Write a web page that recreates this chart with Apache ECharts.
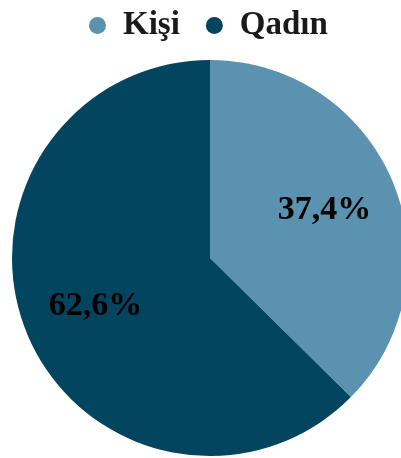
<!DOCTYPE html>
<html>
<head>
<meta charset="utf-8">
<script src="https://cdn.jsdelivr.net/npm/echarts@6/dist/echarts.min.js"></script>
<style>
html,body{margin:0;padding:0;background:#fff;}
#c{width:401px;height:458px;}
</style>
</head>
<body>
<div id="c"></div>
<script>
const categories = ['Kişi', 'Qadın'];
const values = [37.4, 62.6];
const colors = ['#5a92af', '#03455f'];

const pieData = categories.map((n, i) => ({ name: n, value: values[i], itemStyle: { color: colors[i] } }));
const font = '"Liberation Serif", "Times New Roman", serif';

const chart = echarts.init(document.getElementById('c'));
chart.setOption({
  animation: false,
  legend: {
    data: categories,
    top: 4,
    left: 84,
    icon: 'circle',
    itemWidth: 17,
    itemHeight: 17,
    itemGap: 26,
    textStyle: { fontFamily: font, fontSize: 33, fontWeight: 'bold', color: '#1a1a1a', padding: [0, 0, 0, 12] }
  },
  series: [
    {
      type: 'pie',
      center: [210, 258],
      radius: [0, 198],
      startAngle: 90,
      clockwise: true,
      silent: true,
      label: { show: false },
      labelLine: { show: false },
      itemStyle: { borderWidth: 0 },
      data: pieData
    },
    {
      type: 'pie',
      center: [210, 258],
      radius: [0, 242],
      startAngle: 90,
      clockwise: true,
      silent: true,
      itemStyle: { color: 'rgba(0,0,0,0)' },
      label: {
        show: true,
        position: 'inside',
        fontFamily: font,
        fontSize: 34,
        fontWeight: 'bold',
        color: '#000',
        formatter: p => p.value.toFixed(1).replace('.', ',') + '%'
      },
      labelLine: { show: false },
      data: categories.map((n, i) => ({ name: n, value: values[i] }))
    }
  ]
});
</script>
</body>
</html>
